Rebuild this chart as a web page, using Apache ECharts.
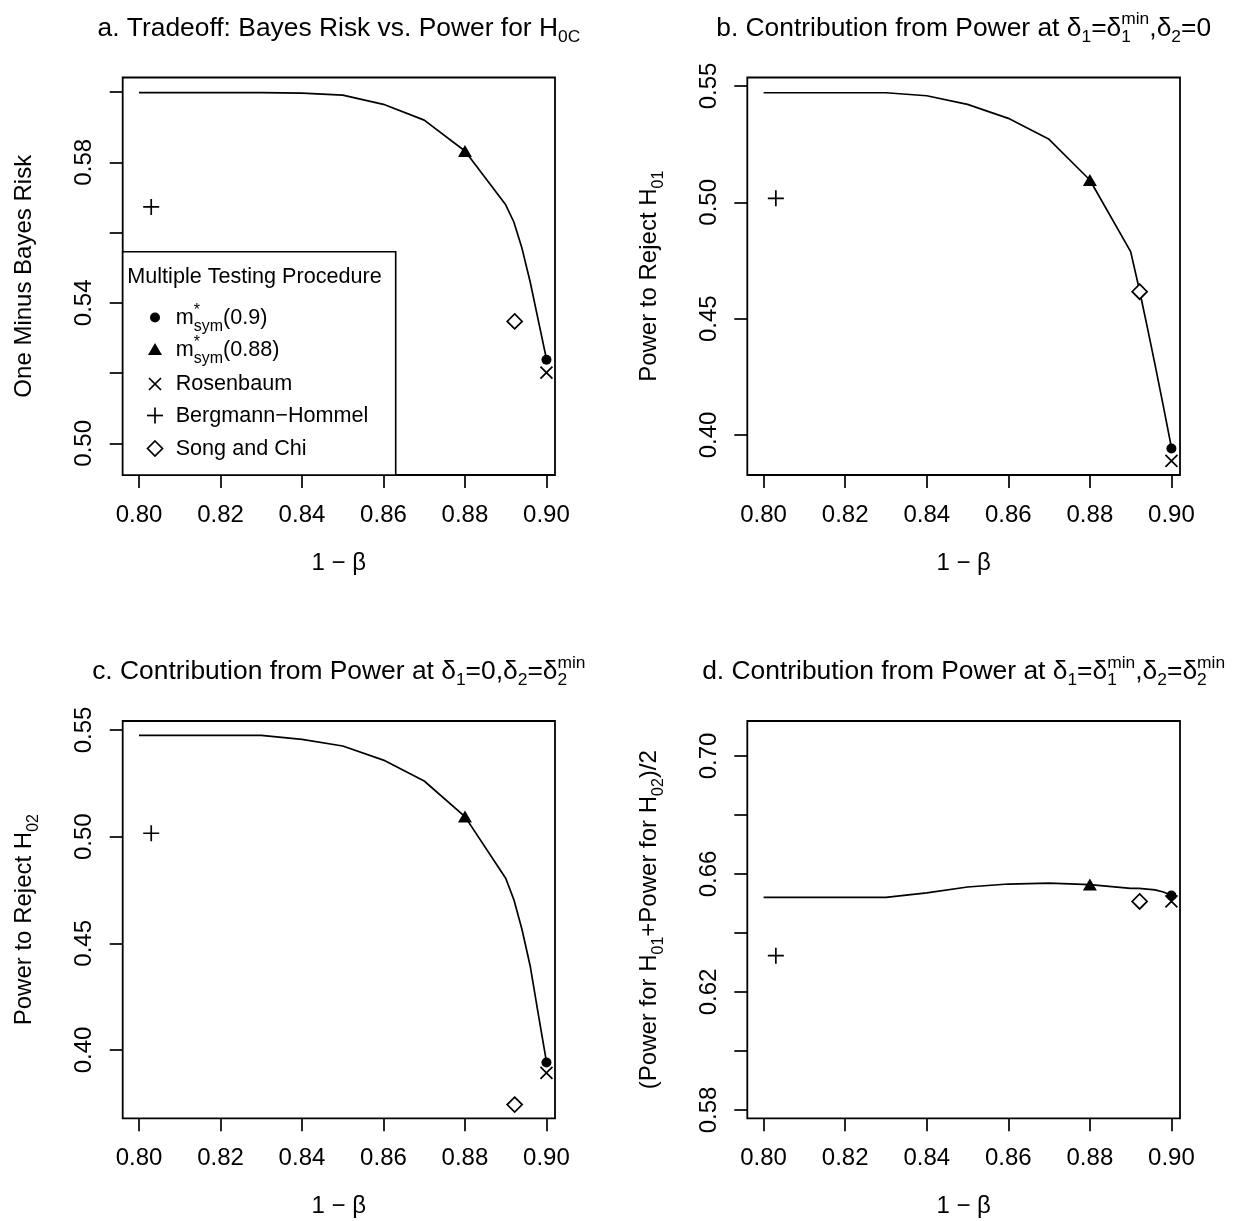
<!DOCTYPE html>
<html><head><meta charset="utf-8">
<script src="https://cdn.jsdelivr.net/npm/echarts@6/dist/echarts.min.js"></script>
<style>html,body{margin:0;padding:0;background:#fff}#c{width:1236px;height:1221px}</style>
</head><body><div id="c"></div>
<script>
// ---------------- data ----------------
const power = [0.80, 0.81, 0.82, 0.83, 0.84, 0.85, 0.86, 0.87, 0.88, 0.89, 0.892, 0.894, 0.896, 0.898, 0.90];
const curveA = [0.5998, 0.5998, 0.5998, 0.5998, 0.5997, 0.5991, 0.5965, 0.5920, 0.5832, 0.5679, 0.5630, 0.5555, 0.5460, 0.5350, 0.5240];
const curveB = [0.5471, 0.5471, 0.5471, 0.5471, 0.5458, 0.5421, 0.5361, 0.5271, 0.5096, 0.4788, 0.4635, 0.4470, 0.4300, 0.4125, 0.3946];
const curveC = [0.5475, 0.5475, 0.5475, 0.5475, 0.5456, 0.5425, 0.5359, 0.5261, 0.5094, 0.4805, 0.4705, 0.4565, 0.4395, 0.4168, 0.3945];
const curveD = [0.6521, 0.6521, 0.6521, 0.6521, 0.6536, 0.6556, 0.6566, 0.6569, 0.6564, 0.6551, 0.6551, 0.6549, 0.6546, 0.6539, 0.6528];

const procNames = ['m*sym(0.9)', 'm*sym(0.88)', 'Rosenbaum', 'Bergmann\u2212Hommel', 'Song and Chi'];
const procX = [0.90, 0.88, 0.90, 0.803, 0.8922];
const procA = [0.5238, 0.5832, 0.5201, 0.5673, 0.5347];
const procB = [0.3942, 0.5096, 0.3889, 0.5017, 0.4616];
const procC = [0.3941, 0.5094, 0.3893, 0.5016, 0.3744];
const procD = [0.6527, 0.6564, 0.6507, 0.6323, 0.6507];

const xTicks = [0.80, 0.82, 0.84, 0.86, 0.88, 0.90];
const yTicksA = [0.50, 0.52, 0.54, 0.56, 0.58, 0.60];
const yLabelsA = [0.50, 0.54, 0.58];
const yTicksB = [0.40, 0.45, 0.50, 0.55];
const yTicksC = [0.40, 0.45, 0.50, 0.55];
const yTicksD = [0.58, 0.60, 0.62, 0.64, 0.66, 0.68, 0.70];
const yLabelsD = [0.58, 0.62, 0.66, 0.70];

// ---------------- layout / style ----------------
const FONT = '"Liberation Sans", Arial, Helvetica, sans-serif';
const grids = [
  {left: 122.7, top: 77.5, width: 432.3, height: 397.5},
  {left: 747.3, top: 77.5, width: 432.7, height: 397.5},
  {left: 122.7, top: 721, width: 432.3, height: 397.3},
  {left: 747.3, top: 721, width: 432.7, height: 397.3}
];
const xRange = [0.7960, 0.9021];
const yRanges = [[0.49098, 0.60413], [0.38281, 0.55365], [0.36798, 0.55422], [0.57719, 0.71186]];
const curves = [curveA, curveB, curveC, curveD];
const procVals = [procA, procB, procC, procD];
const yTicks = [yTicksA, yTicksB, yTicksC, yTicksD];
const yLabels = [yLabelsA, yTicksB, yTicksC, yLabelsD];
const yNames = ['One Minus Bayes Risk', 'Power to Reject H{s|01}', 'Power to Reject H{s|02}', '(Power for H{s|01}+Power for H{s|02})/2'];

const procSymbols = ['circle', 'triangle', 'path://M0,0L10,10M10,0L0,10', 'path://M5,0L5,10M0,5L10,5', 'diamond'];
const procSizes = [10, [14, 12], 12, 16, 15];
const procStyles = [
  {color: '#000'},
  {color: '#000'},
  {color: 'none', borderColor: '#000', borderWidth: 1.7},
  {color: 'none', borderColor: '#000', borderWidth: 1.7},
  {color: '#fff', borderColor: '#000', borderWidth: 1.7}
];

// ---------------- math text helper ----------------
const mctx = document.createElement('canvas').getContext('2d');
function tw(t, s) { mctx.font = s + 'px ' + FONT; return mctx.measureText(t).width; }
const MID = 0.3465;
function mathText(segs, size, o) {
  const sc = o.scale, ss = size * sc;
  const kids = [];
  let x = 0;
  const mk = (t, xx, base, sz) => ({
    type: 'text', x: xx, y: base - MID * sz, z: o.z || 10,
    style: {text: t, font: sz + 'px ' + FONT, fill: '#000', align: 'left', verticalAlign: 'middle'}
  });
  segs.forEach(s => {
    if (s.t !== undefined) { kids.push(mk(s.t, x, 0, size)); x += tw(s.t, size); }
    else {
      let w = 0;
      if (s.sub !== undefined) { kids.push(mk(s.sub, x, o.subShift * size, ss)); w = Math.max(w, tw(s.sub, ss)); }
      if (s.sup !== undefined) { kids.push(mk(s.sup, x, -o.supShift * size, ss)); w = Math.max(w, tw(s.sup, ss)); }
      x += w;
    }
  });
  return {kids, width: x};
}

const titleSegs = [
  [{t: 'a. Tradeoff: Bayes Risk vs. Power for H'}, {sub: '0C'}],
  [{t: 'b. Contribution from Power at \u03b4'}, {sub: '1'}, {t: '=\u03b4'}, {sub: '1', sup: 'min'}, {t: ',\u03b4'}, {sub: '2'}, {t: '=0'}],
  [{t: 'c. Contribution from Power at \u03b4'}, {sub: '1'}, {t: '=0,\u03b4'}, {sub: '2'}, {t: '=\u03b4'}, {sub: '2', sup: 'min'}],
  [{t: 'd. Contribution from Power at \u03b4'}, {sub: '1'}, {t: '=\u03b4'}, {sub: '1', sup: 'min'}, {t: ',\u03b4'}, {sub: '2'}, {t: '=\u03b4'}, {sub: '2', sup: 'min'}]
];
const legendSegs = [
  [{t: 'm'}, {sub: 'sym', sup: '*'}, {t: '(0.9)'}],
  [{t: 'm'}, {sub: 'sym', sup: '*'}, {t: '(0.88)'}],
  [{t: procNames[2]}],
  [{t: procNames[3]}],
  [{t: procNames[4]}]
];

const graphics = [];
const TITLE_SIZE = 26.4;
titleSegs.forEach((segs, i) => {
  const g = grids[i];
  const m = mathText(segs, TITLE_SIZE, {scale: 0.66, subShift: 0.2, supShift: 0.45, z: 10});
  graphics.push({type: 'group', x: g.left + g.width / 2 - m.width / 2, y: g.top - 40, children: m.kids, silent: true});
});

// legend (panel a)
const LG = {left: 122.7, top: 251.7, right: 395.7, bottom: 475};
graphics.push({type: 'rect', shape: {x: LG.left, y: LG.top, width: LG.right - LG.left, height: LG.bottom - LG.top},
  style: {fill: '#fff', stroke: '#000', lineWidth: 1.6}, z: 50});
const LSIZE = 21.6;
graphics.push({type: 'text', x: 127.3, y: 285 - MID * LSIZE, z: 60,
  style: {text: 'Multiple Testing Procedure', font: LSIZE + 'px ' + FONT, fill: '#000', align: 'left', verticalAlign: 'middle'}});
const itemY = [317.5, 349.5, 384, 415.5, 448.5];
const symX = 155, textX = 175.7;
legendSegs.forEach((segs, k) => {
  const cy = itemY[k];
  const m = mathText(segs, LSIZE, {scale: 0.74, subShift: 0.3, supShift: 0.42, z: 60});
  graphics.push({type: 'group', x: textX, y: cy + 0.358 * LSIZE, children: m.kids, z: 60});
});
const lsym = [
  {type: 'circle', shape: {cx: symX, cy: itemY[0], r: 5}, style: {fill: '#000'}},
  {type: 'polygon', shape: {points: [[symX - 7, itemY[1] + 5.5], [symX + 7, itemY[1] + 5.5], [symX, itemY[1] - 6.5]]}, style: {fill: '#000'}},
  {type: 'polyline', shape: {points: [[symX - 6, itemY[2] - 6], [symX + 6, itemY[2] + 6]]}, style: {stroke: '#000', lineWidth: 1.7, fill: null}},
  {type: 'polyline', shape: {points: [[symX - 6, itemY[2] + 6], [symX + 6, itemY[2] - 6]]}, style: {stroke: '#000', lineWidth: 1.7, fill: null}},
  {type: 'polyline', shape: {points: [[symX - 8, itemY[3]], [symX + 8, itemY[3]]]}, style: {stroke: '#000', lineWidth: 1.7, fill: null}},
  {type: 'polyline', shape: {points: [[symX, itemY[3] - 8], [symX, itemY[3] + 8]]}, style: {stroke: '#000', lineWidth: 1.7, fill: null}},
  {type: 'polygon', shape: {points: [[symX, itemY[4] - 7.5], [symX + 7.5, itemY[4]], [symX, itemY[4] + 7.5], [symX - 7.5, itemY[4]]]}, style: {fill: '#fff', stroke: '#000', lineWidth: 1.7}}
];
lsym.forEach(s => { s.z = 60; graphics.push(s); });

// ---------------- option ----------------
const txt = {fontSize: 24, fontFamily: FONT, color: '#000'};
const option = {
  animation: false,
  backgroundColor: '#fff',
  grid: grids.map(g => Object.assign({show: true, borderColor: '#000', borderWidth: 1.8, backgroundColor: 'transparent', containLabel: false}, g)),
  xAxis: grids.map((g, i) => ({
    type: 'value', gridIndex: i, min: xRange[0], max: xRange[1],
    axisLine: {show: false}, splitLine: {show: false},
    axisTick: {show: true, customValues: xTicks, length: 13, lineStyle: {color: '#000', width: 1.7}},
    axisLabel: Object.assign({customValues: xTicks, formatter: v => v.toFixed(2), margin: 28}, txt),
    name: '1 \u2212 \u03b2', nameLocation: 'middle', nameGap: 76,
    nameTextStyle: Object.assign({}, txt)
  })),
  yAxis: grids.map((g, i) => ({
    type: 'value', gridIndex: i, min: yRanges[i][0], max: yRanges[i][1],
    axisLine: {show: false}, splitLine: {show: false},
    axisTick: {show: true, customValues: yTicks[i], length: 13, lineStyle: {color: '#000', width: 1.7}},
    axisLabel: Object.assign({customValues: yLabels[i], formatter: v => v.toFixed(2), margin: 26, rotate: 90}, txt),
    name: yNames[i], nameLocation: 'middle', nameGap: 81, nameRotate: 90,
    nameTextStyle: Object.assign({lineHeight: 34, rich: {s: {fontSize: 16, lineHeight: 16, verticalAlign: 'bottom', fontFamily: FONT, color: '#000'}}}, txt)
  })),
  series: [],
  graphic: graphics
};
grids.forEach((g, i) => {
  option.series.push({
    type: 'line', name: 'tradeoff', xAxisIndex: i, yAxisIndex: i,
    data: power.map((x, j) => [x, curves[i][j]]),
    symbol: 'none', showSymbol: false, silent: true,
    lineStyle: {color: '#000', width: 1.7}, z: 3
  });
  procNames.forEach((nm, k) => {
    option.series.push({
      type: 'scatter', name: nm, xAxisIndex: i, yAxisIndex: i,
      data: [[procX[k], procVals[i][k]]],
      symbol: procSymbols[k], symbolSize: procSizes[k],
      itemStyle: Object.assign({opacity: 1}, procStyles[k]), z: 4, silent: true
    });
  });
});
const chart = echarts.init(document.getElementById('c'), null, {renderer: 'canvas'});
chart.setOption(option);
</script>
</body></html>
